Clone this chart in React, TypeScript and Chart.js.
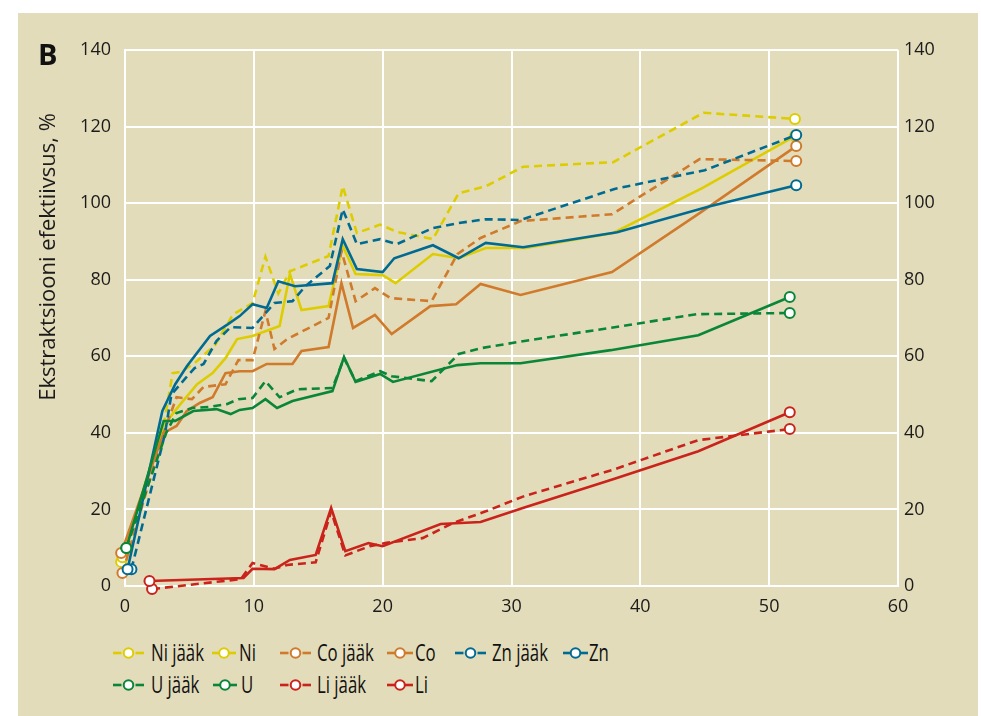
import React, { useEffect, useRef } from "react";
import { Chart, registerables } from "chart.js";
Chart.register(...registerables);

const FONT = "'Open Sans', 'Noto Sans', sans-serif";

// ---- data ----
const xTicksMin = 0;
const xTicksMax = 60;
const yTicksMin = 0;
const yTicksMax = 140;

const niJaakX = [-0.3, 3.0, 3.7, 4.4, 5.5, 7.0, 8.4, 9.9, 10.9, 11.9, 12.8, 15.8, 16.9, 18.0, 19.8, 21.1, 23.9, 25.9, 28.0, 30.9, 37.9, 44.9, 52.0];
const niJaakY = [6.3, 42, 55.6, 56, 58.5, 63, 71, 73.9, 86.0, 76.4, 82.2, 86.2, 104.4, 92.2, 94.4, 92.5, 90.6, 102.6, 104.4, 109.5, 110.7, 123.6, 122.0];

const niX = [-0.2, 3.0, 4.3, 5.6, 6.8, 7.8, 8.7, 9.9, 12.0, 12.8, 13.7, 15.8, 16.9, 17.9, 20.0, 21.0, 23.9, 25.9, 28.0, 31.1, 37.9, 44.8, 52.0];
const niY = [7.5, 42, 47.5, 52.7, 55.6, 59.5, 64.5, 65.3, 67.9, 81.5, 72.1, 73.1, 88.8, 81.5, 81.2, 79.1, 86.7, 85.6, 88.3, 88.3, 92.2, 103.9, 117.5];

const coJaakX = [-0.2, 3.0, 4.0, 5.2, 6.1, 7.8, 8.8, 9.9, 10.9, 11.6, 12.6, 14.1, 15.8, 16.8, 17.9, 19.4, 20.6, 23.8, 25.8, 27.6, 30.7, 37.8, 44.6, 52.1];
const coJaakY = [3.4, 40, 49.3, 48.8, 52, 52.7, 59, 59, 71.8, 61.9, 64.5, 67.1, 70, 87.5, 74.4, 77.8, 75.2, 74.4, 86.7, 90.9, 95.3, 97.1, 111.5, 111.0];

const coX = [-0.3, 3.0, 4.0, 4.8, 5.8, 6.8, 7.8, 8.9, 9.9, 11.0, 13.0, 13.7, 15.8, 16.8, 17.7, 19.4, 20.7, 23.7, 25.7, 27.6, 30.7, 37.8, 44.6, 52.1];
const coY = [8.6, 40, 41.8, 45.7, 47.8, 49.3, 55.6, 56.1, 56.1, 58, 58, 61.4, 62.4, 79.1, 67.4, 70.8, 65.8, 73.1, 73.6, 78.9, 76.0, 82.0, 97.4, 114.9];

const znJaakX = [0.5, 3.1, 3.6, 4.7, 5.4, 6.1, 7.1, 8.2, 9.9, 11.6, 13.0, 14.0, 15.9, 16.9, 18.0, 19.8, 21.1, 23.9, 25.9, 28.0, 30.7, 38.0, 45.0, 52.1];
const znJaakY = [4.4, 39.7, 50, 54.3, 56.9, 58.0, 64.0, 67.6, 67.4, 73.9, 74.4, 78.3, 83.6, 98.4, 89.3, 90.6, 89.3, 93.5, 94.8, 95.8, 95.6, 103.7, 108.6, 117.8];

const znX = [0.2, 2.9, 3.9, 4.8, 6.6, 8.0, 8.9, 9.9, 11.0, 11.9, 13.2, 16.1, 16.9, 18.0, 20.0, 20.9, 23.9, 25.9, 28.0, 30.9, 38.2, 45.4, 52.1];
const znY = [4.4, 45.7, 52.7, 57.4, 65.3, 68.4, 70.5, 73.6, 72.6, 79.6, 78.3, 79.1, 90.6, 82.8, 82.0, 85.6, 89.0, 85.6, 89.6, 88.5, 92.4, 99.2, 104.7];

const uJaakX = [0.1, 3.2, 4.0, 5.2, 6.6, 7.9, 8.8, 9.9, 10.9, 12.0, 13.4, 16.1, 17.0, 17.9, 19.8, 20.7, 23.8, 25.9, 27.6, 31.0, 38.0, 44.4, 51.6];
const uJaakY = [9.9, 40, 45.2, 46.5, 46.8, 47.5, 48.8, 49.1, 53.5, 49.3, 51.4, 51.7, 59.5, 53.5, 56.1, 54.8, 53.5, 60.6, 62.1, 64.0, 67.6, 71.0, 71.3];

const uX = [0.1, 3.0, 3.9, 5.3, 7.1, 8.2, 8.9, 9.9, 10.9, 11.8, 13.0, 16.1, 17.0, 17.9, 19.8, 20.8, 25.8, 27.6, 30.7, 37.7, 44.5, 51.6];
const uY = [9.9, 43.1, 43.1, 45.7, 46.2, 44.9, 46.0, 46.5, 48.8, 46.5, 48.3, 50.9, 59.8, 53.3, 55.4, 53.3, 57.7, 58.2, 58.2, 61.6, 65.5, 75.5];

const liJaakX = [2.1, 9.0, 9.9, 11.6, 12.6, 14.8, 16.0, 17.1, 19.0, 20.3, 23.1, 25.5, 28.0, 31.0, 38.0, 44.5, 51.6];
const liJaakY = [-0.8, 1.8, 6.0, 4.5, 5.5, 6.2, 19.5, 8.0, 10.4, 11.3, 12.5, 16.5, 19.5, 23.5, 30.5, 38.1, 41.0];

const liX = [1.9, 9.2, 9.9, 11.6, 12.8, 14.8, 16.0, 17.1, 18.9, 20.0, 24.5, 27.6, 31.0, 38.0, 44.5, 51.6];
const liY = [1.3, 2.1, 4.5, 4.4, 6.8, 8.1, 20.4, 9.1, 11.2, 10.4, 16.2, 16.7, 20.5, 28.0, 35.2, 45.4];

const seriesLabels = ["Ni jääk", "Ni", "Co jääk", "Co", "Zn jääk", "Zn", "U jääk", "U", "Li jääk", "Li"];
const yTitle = "Ekstraktsiooni efektiivsus, %";
const panelLetter = "B";

// ---- styles ----
const COLORS: Record<string, string> = {
  Ni: "#ddcd00",
  Co: "#d07a2c",
  Zn: "#006b92",
  U: "#0a8639",
  Li: "#c9231b",
};
const BG = "#e3dcba";

const legendLayout = [
  { sx: 113, sw: 31, tx: 151, y: 653 },
  { sx: 212, sw: 24, tx: 239, y: 653 },
  { sx: 280, sw: 31, tx: 317, y: 653 },
  { sx: 387, sw: 26, tx: 415, y: 653 },
  { sx: 455, sw: 31, tx: 492, y: 653 },
  { sx: 563, sw: 25, tx: 589, y: 653 },
  { sx: 113, sw: 31, tx: 151, y: 685 },
  { sx: 213, sw: 24, tx: 241, y: 685 },
  { sx: 280, sw: 31, tx: 317, y: 685 },
  { sx: 387, sw: 26, tx: 415, y: 685 },
];

const seriesData: [number[], number[]][] = [
  [niJaakX, niJaakY],
  [niX, niY],
  [coJaakX, coJaakY],
  [coX, coY],
  [znJaakX, znJaakY],
  [znX, znY],
  [uJaakX, uJaakY],
  [uX, uY],
  [liJaakX, liJaakY],
  [liX, liY],
];

function colorOf(label: string) {
  return COLORS[label.split(" ")[0]];
}
function isDashed(label: string) {
  return label.indexOf("jääk") >= 0;
}

const CANVAS_W = 960;
const CANVAS_H = 614;

export default function App() {
  const ref = useRef<HTMLCanvasElement>(null);

  useEffect(() => {
    if (!ref.current) return;
    const datasets = seriesLabels.map((label, k) => {
      const [xs, ys] = seriesData[k];
      const color = colorOf(label);
      const last = xs.length - 1;
      return {
        label,
        order: -k,
        data: xs.map((x, i) => ({ x, y: ys[i] })),
        borderColor: color,
        backgroundColor: "#ffffff",
        borderWidth: 2.6,
        borderDash: isDashed(label) ? [8, 5] : [],
        pointRadius: (c: any) => (c.dataIndex === 0 || c.dataIndex === last ? 5 : 0),
        pointHoverRadius: 0,
        pointBackgroundColor: "#ffffff",
        pointBorderColor: color,
        pointBorderWidth: 2,
        tension: 0,
        clip: 10,
        fill: false,
      };
    });

    const tickFont = { family: FONT, size: 18 };
    const chart = new Chart(ref.current, {
      type: "line",
      data: { datasets },
      options: {
        animation: false,
        responsive: false,
        events: [],
        layout: { padding: { top: 37, left: 0, right: 0, bottom: 0 } },
        plugins: { legend: { display: false }, tooltip: { enabled: false } },
        scales: {
          x: {
            type: "linear",
            min: xTicksMin,
            max: xTicksMax,
            ticks: { stepSize: 10, color: "#1b1b1b", font: tickFont, padding: 10 },
            grid: { color: "#ffffff", lineWidth: 2, drawTicks: false },
            border: { display: true, color: "#ffffff", width: 2 },
            afterFit: (s: any) => {
              s.height = 41;
            },
          },
          y: {
            position: "left",
            min: yTicksMin,
            max: yTicksMax,
            ticks: { stepSize: 20, color: "#1b1b1b", font: tickFont, padding: 14 },
            grid: { color: "#ffffff", lineWidth: 2, drawTicks: false },
            border: { display: true, color: "#ffffff", width: 2 },
            afterFit: (s: any) => {
              s.width = 107;
            },
          },
          y2: {
            position: "right",
            min: yTicksMin,
            max: yTicksMax,
            ticks: { stepSize: 20, color: "#1b1b1b", font: tickFont, padding: 6 },
            grid: { display: false, drawTicks: false },
            border: { display: false },
            afterFit: (s: any) => {
              s.width = 80;
            },
          },
        },
      },
    } as any);
    return () => chart.destroy();
  }, []);

  return (
    <div style={{ position: "absolute", left: 0, top: 0, width: 981, height: 716, background: "#ffffff", overflow: "hidden", fontFamily: FONT }}>
      <div style={{ position: "absolute", left: 18, top: 13, width: 960, height: 703, background: BG }} />
      <canvas
        ref={ref}
        width={CANVAS_W}
        height={CANVAS_H}
        style={{ position: "absolute", left: 18, top: 13, width: CANVAS_W, height: CANVAS_H }}
      />
      <div style={{ position: "absolute", left: 38, top: 36, fontSize: 29, fontWeight: 700, color: "#111", lineHeight: "36px" }}>
        {panelLetter}
      </div>
      <div
        style={{
          position: "absolute",
          left: 46 - 200,
          top: 257 - 14,
          width: 400,
          height: 28,
          lineHeight: "28px",
          textAlign: "center",
          fontSize: 22,
          color: "#1b1b1b",
          transform: "rotate(-90deg)",
          whiteSpace: "nowrap",
        }}
      >
        {yTitle}
      </div>
      {seriesLabels.map((label, k) => {
        const L = legendLayout[k];
        const color = colorOf(label);
        const dashed = isDashed(label);
        const cx = L.sw / 2;
        return (
          <React.Fragment key={label}>
            <svg
              width={L.sw}
              height={14}
              style={{ position: "absolute", left: L.sx, top: L.y - 7 }}
            >
              {dashed ? (
                <>
                  <line x1={0} y1={7} x2={cx - 7} y2={7} stroke={color} strokeWidth={2.6} />
                  <line x1={cx + 7} y1={7} x2={L.sw} y2={7} stroke={color} strokeWidth={2.6} />
                </>
              ) : (
                <line x1={0} y1={7} x2={L.sw} y2={7} stroke={color} strokeWidth={2.6} />
              )}
              <circle cx={cx} cy={7} r={4.8} fill="#ffffff" stroke={color} strokeWidth={2} />
            </svg>
            <div
              style={{
                position: "absolute",
                left: L.tx,
                top: L.y - 17,
                height: 32,
                lineHeight: "32px",
                fontSize: 24,
                color: "#111",
                whiteSpace: "nowrap",
                transform: "scaleX(0.7)",
                transformOrigin: "left center",
              }}
            >
              {label}
            </div>
          </React.Fragment>
        );
      })}
    </div>
  );
}
